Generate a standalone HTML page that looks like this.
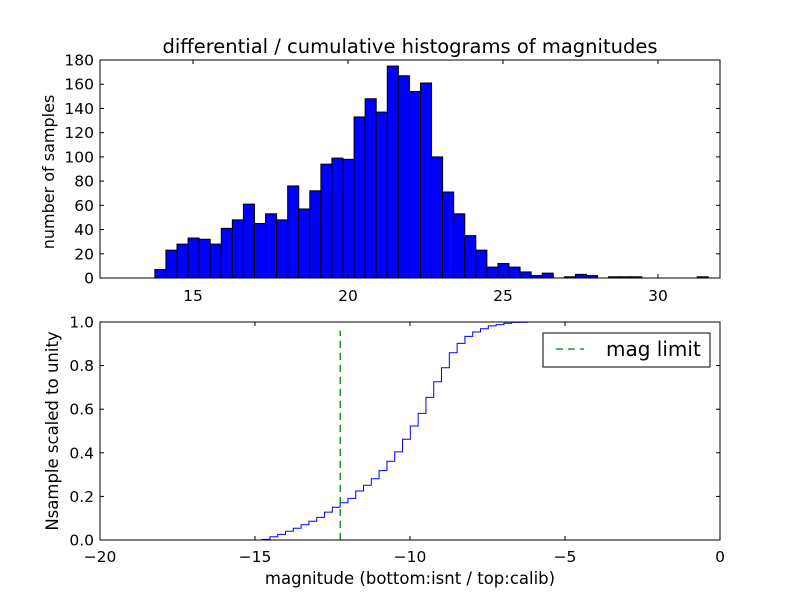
<!DOCTYPE html>
<html><head><meta charset="utf-8"><style>
html,body{margin:0;padding:0;background:#fff;}
svg text{font-family:"DejaVu Sans","Liberation Sans",sans-serif;}
</style></head><body>
<svg id="c" width="800" height="600" xmlns="http://www.w3.org/2000/svg"></svg>
<script>
const topCounts=[7,23,28,33,32,28,41,48,61,45,53,48,76,57,72,94,99,98,133,148,137,175,167,154,161,100,71,53,35,23,9,12,9,5,2,4,0,1,3,2,0,1,1,1,0,0,0,0,0,1];
const topBinStart=13.77;
const topBinWidth=0.357;
const topXTicks=[15,20,25,30];
const topYTicks=[0,20,40,60,80,100,120,140,160,180];
const cumValues=[0.003,0.015,0.026,0.040,0.054,0.070,0.086,0.104,0.128,0.150,0.171,0.191,0.225,0.251,0.281,0.318,0.361,0.404,0.462,0.523,0.581,0.654,0.726,0.790,0.859,0.902,0.934,0.954,0.969,0.982,0.988,0.994,0.998,0.999,1.0];
const cumStart=-14.77;
const cumWidth=0.2516;
const magLimit=-12.25;
const botXTicks=[-20,-15,-10,-5,0];
const botYTicks=[0,0.2,0.4,0.6,0.8,1.0];

const svg=document.getElementById('c');
const NS='http://www.w3.org/2000/svg';
function el(t,a,p){const e=document.createElementNS(NS,t);for(const k in a)e.setAttribute(k,a[k]);(p||svg).appendChild(e);return e;}
const L=100,R=720;
const tx=v=>L+(v-12)/20*(R-L), ty=v=>278-v/180*218;
const bx=v=>L+(v+20)/20*(R-L), by=v=>540-v*218;
const TF=15.5;

const gb=el('g',{});


topCounts.forEach((c,i)=>{
  if(c<=0)return;
  const x0=tx(topBinStart+i*topBinWidth),x1=tx(topBinStart+(i+1)*topBinWidth);
  const r=el('rect',{x:x0,y:ty(c),width:x1-x0,height:ty(0)-ty(c),fill:'#0000ff',stroke:'#000','stroke-width':1},gb);
  
  
});
const f1=el('rect',{x:L,y:60,width:R-L,height:218,fill:'none',stroke:'#000','stroke-width':1});


topXTicks.forEach(v=>{const x=tx(v);el('line',{x1:x,x2:x,y1:278,y2:274,stroke:'#000'});el('line',{x1:x,x2:x,y1:60,y2:64,stroke:'#000'});
  const t=el('text',{x:x,y:301,'text-anchor':'middle','font-size':TF});t.textContent=v;
  });
topYTicks.forEach(v=>{const y=ty(v);el('line',{x1:L,x2:L+4,y1:y,y2:y,stroke:'#000'});el('line',{x1:R,x2:R-4,y1:y,y2:y,stroke:'#000'});
  const t=el('text',{x:L-6,y:y+5.5,'text-anchor':'end','font-size':TF});t.textContent=v;
  });
let t=el('text',{x:410,y:53,'text-anchor':'middle','font-size':19.5});t.textContent='differential / cumulative histograms of magnitudes';

t=el('text',{x:54,y:172,'text-anchor':'middle','font-size':16,transform:'rotate(-90 54 172)'});t.textContent='number of samples';


let d='M'+bx(cumStart)+','+by(0);
cumValues.forEach((v,i)=>{const x0=bx(cumStart+i*cumWidth),x1=bx(cumStart+(i+1)*cumWidth);d+=' L'+x0+','+by(v)+' L'+x1+','+by(v);});
d+=' L'+bx(0)+','+by(1)+' L'+bx(0)+','+by(0);
const sp=el('path',{d:d,fill:'none',stroke:'#0000ff','stroke-width':1});

const ml=el('line',{x1:bx(magLimit),x2:bx(magLimit),y1:by(0),y2:by(0.96),stroke:'#008000','stroke-width':1.3,'stroke-dasharray':'7,5'});

const f2=el('rect',{x:L,y:322,width:R-L,height:218,fill:'none',stroke:'#000','stroke-width':1});

botXTicks.forEach(v=>{const x=bx(v);el('line',{x1:x,x2:x,y1:540,y2:536,stroke:'#000'});el('line',{x1:x,x2:x,y1:322,y2:326,stroke:'#000'});
  const t=el('text',{x:x,y:562,'text-anchor':'middle','font-size':TF});t.textContent=v<0?'\u2212'+(-v):v;
  });
botYTicks.forEach(v=>{const y=by(v);el('line',{x1:L,x2:L+4,y1:y,y2:y,stroke:'#000'});el('line',{x1:R,x2:R-4,y1:y,y2:y,stroke:'#000'});
  const t=el('text',{x:L-6,y:y+5.5,'text-anchor':'end','font-size':TF});t.textContent=v.toFixed(1);
  });
t=el('text',{x:410,y:584,'text-anchor':'middle','font-size':16.5});t.textContent='magnitude (bottom:isnt / top:calib)';

t=el('text',{x:58,y:431,'text-anchor':'middle','font-size':16.5,transform:'rotate(-90 58 431)'});t.textContent='Nsample scaled to unity';

const lg=el('g',{});
el('rect',{x:543,y:333,width:167,height:34,fill:'#fff',stroke:'#000'},lg);
el('line',{x1:556,x2:584,y1:349,y2:349,stroke:'#008000','stroke-width':1.3,'stroke-dasharray':'7,5'},lg);
t=el('text',{x:606,y:356,'font-size':20},lg);t.textContent='mag limit';

</script>
</body></html>
